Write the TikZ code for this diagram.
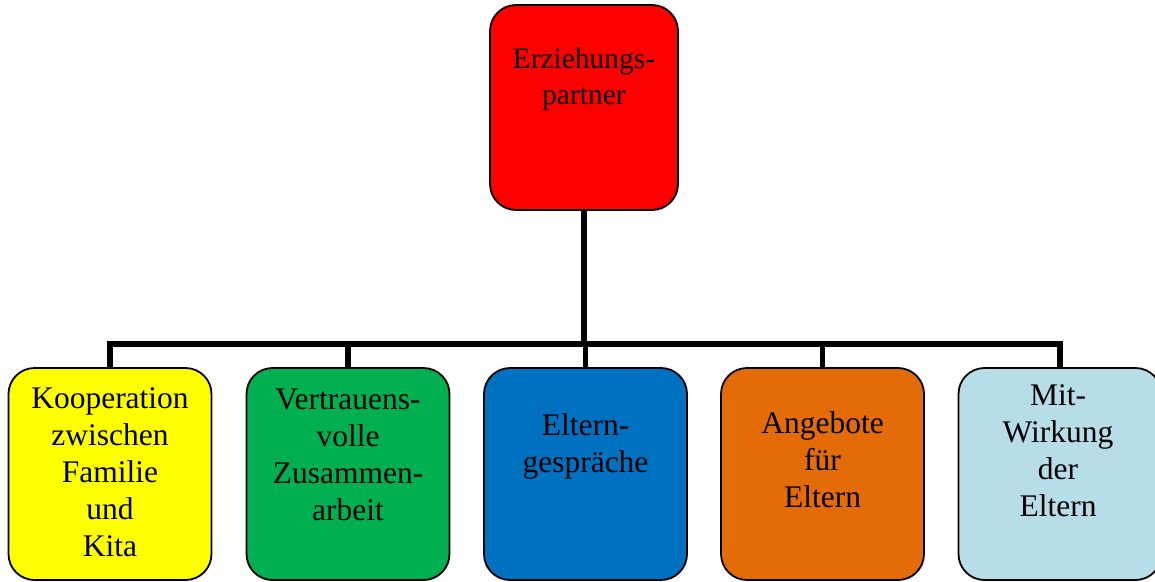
\documentclass[tikz,border=0pt]{standalone}
\usepackage{fontspec}
\setmainfont{Liberation Serif}
\definecolor{cRed}{HTML}{FF0000}
\definecolor{cYellow}{HTML}{FFFF00}
\definecolor{cGreen}{HTML}{00B050}
\definecolor{cBlue}{HTML}{0070C0}
\definecolor{cOrange}{HTML}{E36C09}
\definecolor{cAqua}{HTML}{B7DEE8}
\begin{document}
\begin{tikzpicture}[x=1pt,y=-1pt,
  card/.style={draw=black, line width=1.8pt, rounded corners=26pt,
    rectangle, inner sep=0pt, minimum width=203pt, minimum height=212pt},
  topcard/.style={card, minimum width=188pt, minimum height=205pt},
  label/.style={anchor=north, align=center, inner sep=0pt,
    font=\fontsize{31.5}{37}\selectfont},
  toplabel/.style={label, font=\fontsize{29.5}{36}\selectfont},
  conn/.style={draw=black, line width=5.5pt}]
  \useasboundingbox (0,0) rectangle (1155,581);

  % boxes
  \node[topcard, fill=cRed] (top) at (584,107.5) {};
  \node[card, fill=cYellow] (k1) at (110,474) {};
  \node[card, fill=cGreen]  (k2) at (348,474) {};
  \node[card, fill=cBlue]   (k3) at (585.5,474) {};
  \node[card, fill=cOrange] (k4) at (822.5,474) {};
  \node[card, fill=cAqua]   (k5) at (1060,474) {};

  % texts (first baseline = anchor + 25pt)
  \node[toplabel] (t0) at (584,43) {\rule{0pt}{25pt}Erziehungs-\\partner};
  \node[label] (t1) at (110,383) {\rule{0pt}{25pt}Kooperation\\zwischen\\Familie\\und\\Kita};
  \node[label] (t2) at (348,384) {\rule{0pt}{25pt}Vertrauens-\\volle\\Zusammen-\\arbeit};
  \node[label] (t3) at (585.5,410) {\rule{0pt}{25pt}Eltern-\\gespräche};
  \node[label] (t4) at (822.5,408) {\rule{0pt}{25pt}Angebote\\für\\Eltern};
  \node[label] (t5) at (1058,380) {\rule{0pt}{25pt}Mit-\\Wirkung\\der\\Eltern};

  % connectors
  \coordinate (bus) at (585.5,344);
  \draw[conn] (top.south) -- (top.south |- bus);
  \draw[conn] (k1.north) |- (bus) -| (k5.north);
  \draw[conn] (k2.north) -- (k2.north |- bus);
  \draw[conn] (k3.north) -- (k3.north |- bus);
  \draw[conn] (k4.north) -- (k4.north |- bus);
\end{tikzpicture}
\end{document}
